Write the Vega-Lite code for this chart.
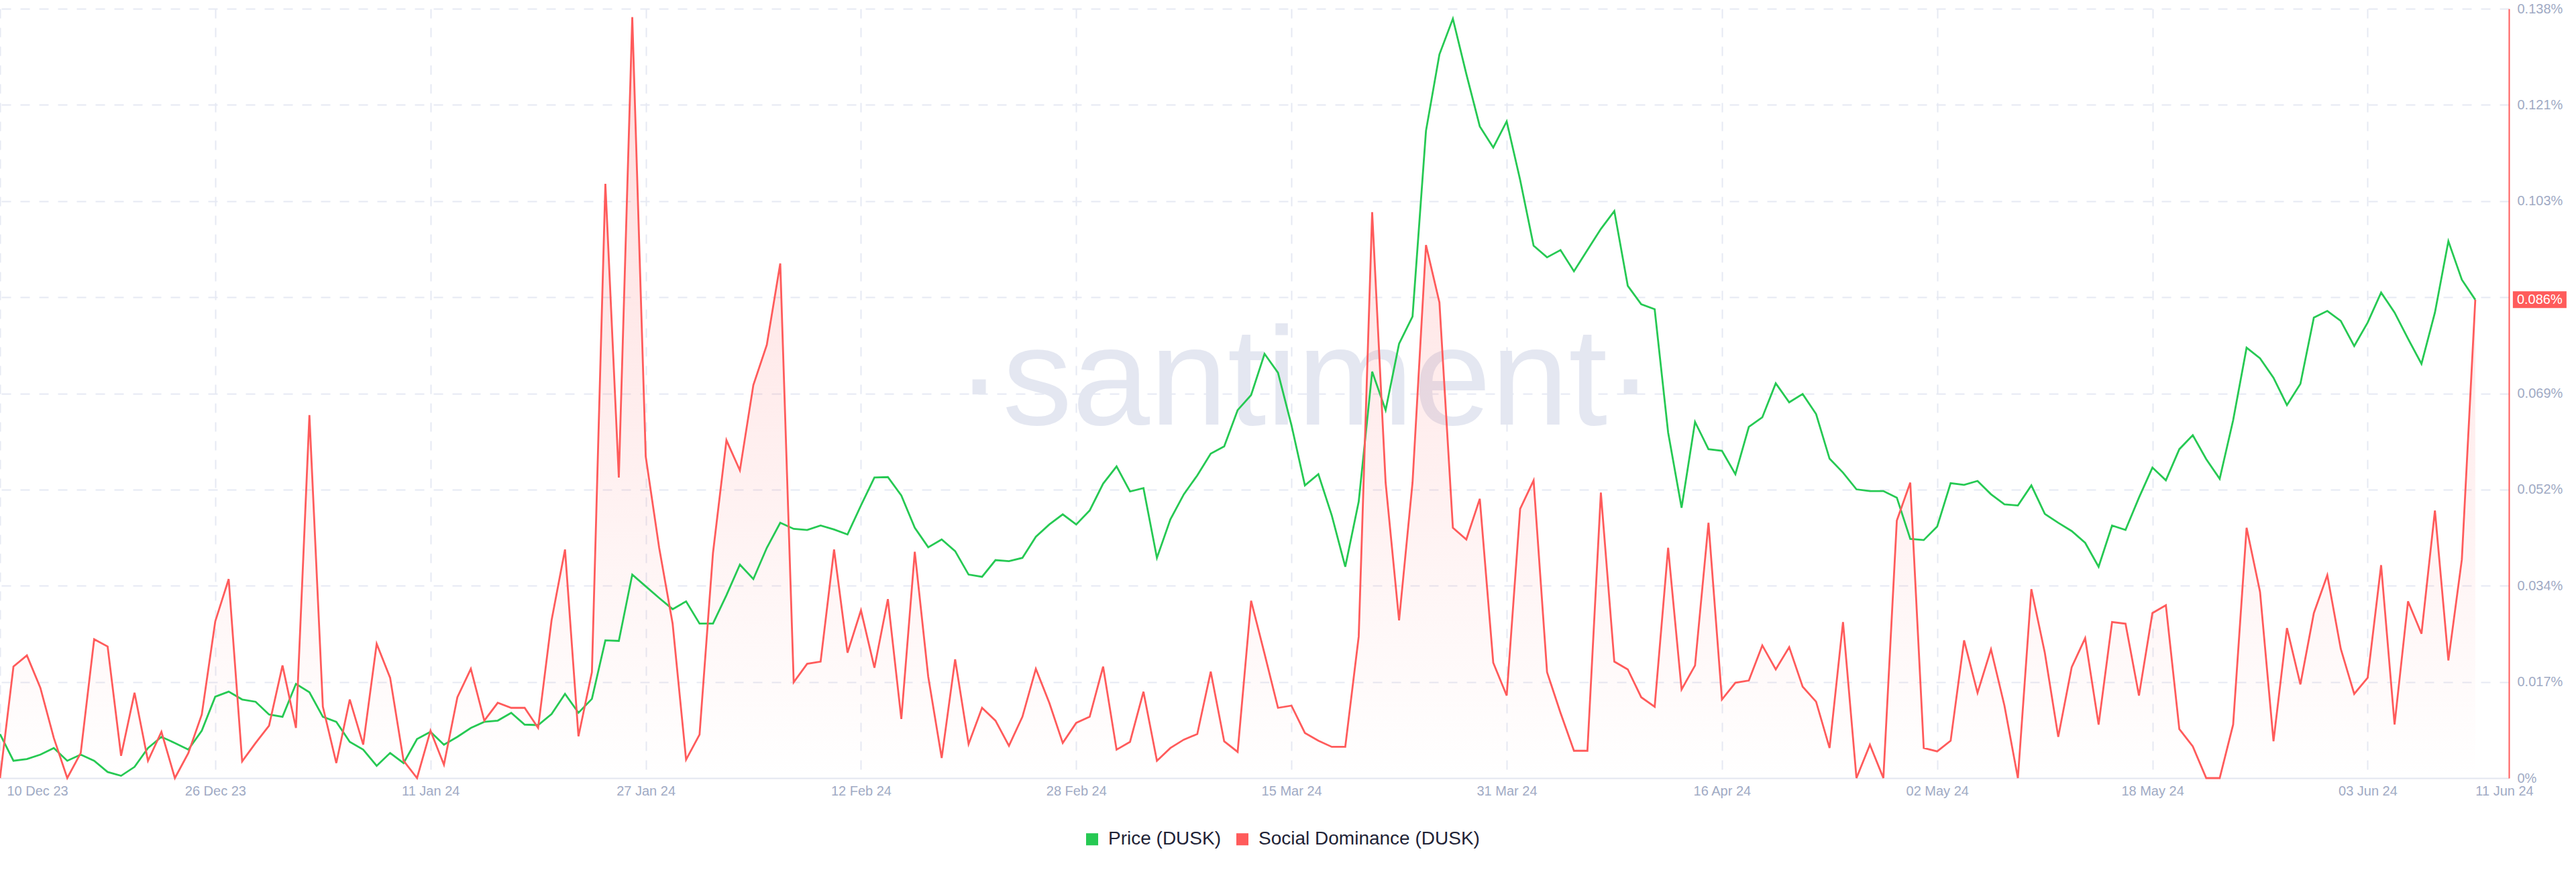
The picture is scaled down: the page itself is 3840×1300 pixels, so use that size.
{
  "$schema": "https://vega.github.io/schema/vega-lite/v6.json",
  "width": 3740,
  "height": 1147,
  "autosize": {"type": "none"},
  "padding": {"left": 0, "top": 13, "right": 100, "bottom": 140},
  "background": "#ffffff",
  "config": {"view": {"stroke": null}, "font": "Liberation Sans"},
  "datasets": {
    "dusk": [
      {"date":"2023-12-10","price":0.2066,"dom":0},
      {"date":"2023-12-11","price":0.1844,"dom":0.0200},
      {"date":"2023-12-12","price":0.1858,"dom":0.0220},
      {"date":"2023-12-13","price":0.1895,"dom":0.0162},
      {"date":"2023-12-14","price":0.1950,"dom":0.0072},
      {"date":"2023-12-15","price":0.1844,"dom":0},
      {"date":"2023-12-16","price":0.1895,"dom":0.0045},
      {"date":"2023-12-17","price":0.1844,"dom":0.0249},
      {"date":"2023-12-18","price":0.1751,"dom":0.0236},
      {"date":"2023-12-19","price":0.1719,"dom":0.0040},
      {"date":"2023-12-20","price":0.1793,"dom":0.0153},
      {"date":"2023-12-21","price":0.1950,"dom":0.0031},
      {"date":"2023-12-22","price":0.2043,"dom":0.0083},
      {"date":"2023-12-23","price":0.1992,"dom":0},
      {"date":"2023-12-24","price":0.1937,"dom":0.0045},
      {"date":"2023-12-25","price":0.2094,"dom":0.0114},
      {"date":"2023-12-26","price":0.2377,"dom":0.0281},
      {"date":"2023-12-27","price":0.2419,"dom":0.0357},
      {"date":"2023-12-28","price":0.2354,"dom":0.0030},
      {"date":"2023-12-29","price":0.2335,"dom":0.0063},
      {"date":"2023-12-30","price":0.2229,"dom":0.0094},
      {"date":"2023-12-31","price":0.2210,"dom":0.0202},
      {"date":"2024-01-01","price":0.2484,"dom":0.0090},
      {"date":"2024-01-02","price":0.2414,"dom":0.0651},
      {"date":"2024-01-03","price":0.2210,"dom":0.0128},
      {"date":"2024-01-04","price":0.2168,"dom":0.0027},
      {"date":"2024-01-05","price":0.2001,"dom":0.0141},
      {"date":"2024-01-06","price":0.1937,"dom":0.0060},
      {"date":"2024-01-07","price":0.1802,"dom":0.0241},
      {"date":"2024-01-08","price":0.1909,"dom":0.0180},
      {"date":"2024-01-09","price":0.1825,"dom":0.0031},
      {"date":"2024-01-10","price":0.2025,"dom":0},
      {"date":"2024-01-11","price":0.2085,"dom":0.0085},
      {"date":"2024-01-12","price":0.1978,"dom":0.0024},
      {"date":"2024-01-13","price":0.2043,"dom":0.0145},
      {"date":"2024-01-14","price":0.2117,"dom":0.0196},
      {"date":"2024-01-15","price":0.2168,"dom":0.0103},
      {"date":"2024-01-16","price":0.2178,"dom":0.0135},
      {"date":"2024-01-17","price":0.2243,"dom":0.0126},
      {"date":"2024-01-18","price":0.2145,"dom":0.0126},
      {"date":"2024-01-19","price":0.2141,"dom":0.0090},
      {"date":"2024-01-20","price":0.2233,"dom":0.0283},
      {"date":"2024-01-21","price":0.2400,"dom":0.0410},
      {"date":"2024-01-22","price":0.2243,"dom":0.0075},
      {"date":"2024-01-23","price":0.2359,"dom":0.0190},
      {"date":"2024-01-24","price":0.2846,"dom":0.1066},
      {"date":"2024-01-25","price":0.2841,"dom":0.0539},
      {"date":"2024-01-26","price":0.3393,"dom":0.1365},
      {"date":"2024-01-27","price":0.3295,"dom":0.0577},
      {"date":"2024-01-28","price":0.3198,"dom":0.0413},
      {"date":"2024-01-29","price":0.3105,"dom":0.0277},
      {"date":"2024-01-30","price":0.3170,"dom":0.0033},
      {"date":"2024-01-31","price":0.2985,"dom":0.0078},
      {"date":"2024-02-01","price":0.2985,"dom":0.0404},
      {"date":"2024-02-02","price":0.3221,"dom":0.0606},
      {"date":"2024-02-03","price":0.3476,"dom":0.0552},
      {"date":"2024-02-04","price":0.3356,"dom":0.0705},
      {"date":"2024-02-05","price":0.3615,"dom":0.0777},
      {"date":"2024-02-06","price":0.3824,"dom":0.0923},
      {"date":"2024-02-07","price":0.3773,"dom":0.0172},
      {"date":"2024-02-08","price":0.3764,"dom":0.0205},
      {"date":"2024-02-09","price":0.3801,"dom":0.0209},
      {"date":"2024-02-10","price":0.3768,"dom":0.0410},
      {"date":"2024-02-11","price":0.3727,"dom":0.0225},
      {"date":"2024-02-12","price":0.3968,"dom":0.0301},
      {"date":"2024-02-13","price":0.4200,"dom":0.0198},
      {"date":"2024-02-14","price":0.4204,"dom":0.0321},
      {"date":"2024-02-15","price":0.4051,"dom":0.0106},
      {"date":"2024-02-16","price":0.3782,"dom":0.0406},
      {"date":"2024-02-17","price":0.3620,"dom":0.0182},
      {"date":"2024-02-18","price":0.3685,"dom":0.0036},
      {"date":"2024-02-19","price":0.3588,"dom":0.0213},
      {"date":"2024-02-20","price":0.3393,"dom":0.0061},
      {"date":"2024-02-21","price":0.3374,"dom":0.0126},
      {"date":"2024-02-22","price":0.3513,"dom":0.0103},
      {"date":"2024-02-23","price":0.3504,"dom":0.0058},
      {"date":"2024-02-24","price":0.3532,"dom":0.0110},
      {"date":"2024-02-25","price":0.3708,"dom":0.0196},
      {"date":"2024-02-26","price":0.3810,"dom":0.0135},
      {"date":"2024-02-27","price":0.3894,"dom":0.0063},
      {"date":"2024-02-28","price":0.3810,"dom":0.0099},
      {"date":"2024-02-29","price":0.3926,"dom":0.0110},
      {"date":"2024-03-01","price":0.4149,"dom":0.0200},
      {"date":"2024-03-02","price":0.4293,"dom":0.0051},
      {"date":"2024-03-03","price":0.4084,"dom":0.0065},
      {"date":"2024-03-04","price":0.4112,"dom":0.0155},
      {"date":"2024-03-05","price":0.3532,"dom":0.0031},
      {"date":"2024-03-06","price":0.3852,"dom":0.0054},
      {"date":"2024-03-07","price":0.4061,"dom":0.0069},
      {"date":"2024-03-08","price":0.4218,"dom":0.0079},
      {"date":"2024-03-09","price":0.4399,"dom":0.0191},
      {"date":"2024-03-10","price":0.4459,"dom":0.0066},
      {"date":"2024-03-11","price":0.4761,"dom":0.0047},
      {"date":"2024-03-12","price":0.4886,"dom":0.0318},
      {"date":"2024-03-13","price":0.5229,"dom":0.0223},
      {"date":"2024-03-14","price":0.5072,"dom":0.0126},
      {"date":"2024-03-15","price":0.4636,"dom":0.0130},
      {"date":"2024-03-16","price":0.4135,"dom":0.0081},
      {"date":"2024-03-17","price":0.4228,"dom":0.0067},
      {"date":"2024-03-18","price":0.3884,"dom":0.0056},
      {"date":"2024-03-19","price":0.3458,"dom":0.0056},
      {"date":"2024-03-20","price":0.4000,"dom":0.0254},
      {"date":"2024-03-21","price":0.5081,"dom":0.1015},
      {"date":"2024-03-22","price":0.4761,"dom":0.0530},
      {"date":"2024-03-23","price":0.5313,"dom":0.0283},
      {"date":"2024-03-24","price":0.5540,"dom":0.0530},
      {"date":"2024-03-25","price":0.7084,"dom":0.0956},
      {"date":"2024-03-26","price":0.7720,"dom":0.0853},
      {"date":"2024-03-27","price":0.8017,"dom":0.0449},
      {"date":"2024-03-28","price":0.7557,"dom":0.0428},
      {"date":"2024-03-29","price":0.7121,"dom":0.0501},
      {"date":"2024-03-30","price":0.6945,"dom":0.0207},
      {"date":"2024-03-31","price":0.7163,"dom":0.0148},
      {"date":"2024-04-01","price":0.6676,"dom":0.0483},
      {"date":"2024-04-02","price":0.6129,"dom":0.0534},
      {"date":"2024-04-03","price":0.6032,"dom":0.0190},
      {"date":"2024-04-04","price":0.6092,"dom":0.0117},
      {"date":"2024-04-05","price":0.5916,"dom":0.0049},
      {"date":"2024-04-06","price":0.6092,"dom":0.0049},
      {"date":"2024-04-07","price":0.6268,"dom":0.0512},
      {"date":"2024-04-08","price":0.6417,"dom":0.0209},
      {"date":"2024-04-09","price":0.5795,"dom":0.0195},
      {"date":"2024-04-10","price":0.5642,"dom":0.0145},
      {"date":"2024-04-11","price":0.5600,"dom":0.0128},
      {"date":"2024-04-12","price":0.4575,"dom":0.0413},
      {"date":"2024-04-13","price":0.3949,"dom":0.0159},
      {"date":"2024-04-14","price":0.4663,"dom":0.0202},
      {"date":"2024-04-15","price":0.4436,"dom":0.0458},
      {"date":"2024-04-16","price":0.4422,"dom":0.0141},
      {"date":"2024-04-17","price":0.4228,"dom":0.0171},
      {"date":"2024-04-18","price":0.4622,"dom":0.0175},
      {"date":"2024-04-19","price":0.4701,"dom":0.0238},
      {"date":"2024-04-20","price":0.4984,"dom":0.0195},
      {"date":"2024-04-21","price":0.4826,"dom":0.0235},
      {"date":"2024-04-22","price":0.4895,"dom":0.0164},
      {"date":"2024-04-23","price":0.4728,"dom":0.0137},
      {"date":"2024-04-24","price":0.4357,"dom":0.0054},
      {"date":"2024-04-25","price":0.4241,"dom":0.0280},
      {"date":"2024-04-26","price":0.4102,"dom":0},
      {"date":"2024-04-27","price":0.4088,"dom":0.0060},
      {"date":"2024-04-28","price":0.4088,"dom":0},
      {"date":"2024-04-29","price":0.4033,"dom":0.0462},
      {"date":"2024-04-30","price":0.3690,"dom":0.0530},
      {"date":"2024-05-01","price":0.3680,"dom":0.0054},
      {"date":"2024-05-02","price":0.3792,"dom":0.0048},
      {"date":"2024-05-03","price":0.4153,"dom":0.0067},
      {"date":"2024-05-04","price":0.4139,"dom":0.0247},
      {"date":"2024-05-05","price":0.4172,"dom":0.0153},
      {"date":"2024-05-06","price":0.4061,"dom":0.0231},
      {"date":"2024-05-07","price":0.3977,"dom":0.0130},
      {"date":"2024-05-08","price":0.3968,"dom":0},
      {"date":"2024-05-09","price":0.4135,"dom":0.0339},
      {"date":"2024-05-10","price":0.3898,"dom":0.0225},
      {"date":"2024-05-11","price":0.3824,"dom":0.0074},
      {"date":"2024-05-12","price":0.3755,"dom":0.0199},
      {"date":"2024-05-13","price":0.3657,"dom":0.0251},
      {"date":"2024-05-14","price":0.3458,"dom":0.0096},
      {"date":"2024-05-15","price":0.3801,"dom":0.0280},
      {"date":"2024-05-16","price":0.3764,"dom":0.0277},
      {"date":"2024-05-17","price":0.4033,"dom":0.0148},
      {"date":"2024-05-18","price":0.4283,"dom":0.0296},
      {"date":"2024-05-19","price":0.4177,"dom":0.0310},
      {"date":"2024-05-20","price":0.4436,"dom":0.0088},
      {"date":"2024-05-21","price":0.4552,"dom":0.0057},
      {"date":"2024-05-22","price":0.4353,"dom":0},
      {"date":"2024-05-23","price":0.4190,"dom":0},
      {"date":"2024-05-24","price":0.4677,"dom":0.0096},
      {"date":"2024-05-25","price":0.5280,"dom":0.0449},
      {"date":"2024-05-26","price":0.5192,"dom":0.0334},
      {"date":"2024-05-27","price":0.5030,"dom":0.0066},
      {"date":"2024-05-28","price":0.4803,"dom":0.0269},
      {"date":"2024-05-29","price":0.4979,"dom":0.0168},
      {"date":"2024-05-30","price":0.5531,"dom":0.0296},
      {"date":"2024-05-31","price":0.5586,"dom":0.0364},
      {"date":"2024-06-01","price":0.5503,"dom":0.0232},
      {"date":"2024-06-02","price":0.5294,"dom":0.0151},
      {"date":"2024-06-03","price":0.5489,"dom":0.0180},
      {"date":"2024-06-04","price":0.5739,"dom":0.0382},
      {"date":"2024-06-05","price":0.5573,"dom":0.0096},
      {"date":"2024-06-06","price":0.5355,"dom":0.0317},
      {"date":"2024-06-07","price":0.5146,"dom":0.0259},
      {"date":"2024-06-08","price":0.5573,"dom":0.0480},
      {"date":"2024-06-09","price":0.6166,"dom":0.0211},
      {"date":"2024-06-10","price":0.5846,"dom":0.0392},
      {"date":"2024-06-11","price":0.5679,"dom":0.0858}
    ]
  },
  "data": {"name": "dusk"},
  "encoding": {
    "x": {
      "field": "date",
      "type": "temporal",
      "scale": {"type": "utc", "domain": [1702166400000, 1718280000000]},
      "axis": {
        "title": null,
        "values": [
          {"year": 2023, "month": 12, "date": 10, "utc": true},
          {"year": 2023, "month": 12, "date": 26, "utc": true},
          {"year": 2024, "month": 1, "date": 11, "utc": true},
          {"year": 2024, "month": 1, "date": 27, "utc": true},
          {"year": 2024, "month": 2, "date": 12, "utc": true},
          {"year": 2024, "month": 2, "date": 28, "utc": true},
          {"year": 2024, "month": 3, "date": 15, "utc": true},
          {"year": 2024, "month": 3, "date": 31, "utc": true},
          {"year": 2024, "month": 4, "date": 16, "utc": true},
          {"year": 2024, "month": 5, "date": 2, "utc": true},
          {"year": 2024, "month": 5, "date": 18, "utc": true},
          {"year": 2024, "month": 6, "date": 3, "utc": true},
          {"year": 2024, "month": 6, "date": 11, "utc": true}
        ],
        "format": "%d %b %y",
        "grid": true,
        "gridColor": "#e6e9f3",
        "gridDash": [14, 14],
        "gridWidth": 2,
        "gridOpacity": {"condition": {"test": "datum.value >= 1718064000000", "value": 0}, "value": 1},
        "ticks": false,
        "domainColor": "#e3e6f0",
        "domainWidth": 2,
        "labelColor": "#9faac4",
        "labelFont": "Liberation Sans",
        "labelFontSize": 20,
        "labelPadding": 9,
        "labelAlign": {"condition": {"test": "datum.value <= 1702166400000 || datum.value >= 1718064000000", "value": "left"}, "value": "center"},
        "labelOffset": {"condition": {"test": "datum.value <= 1702166400000", "value": 10}, "value": 0},
        "labelOverlap": false,
        "labelFlush": false,
        "labelBound": false
      }
    }
  },
  "layer": [
    {
      "transform": [{"filter": "utcmonth(datum.date) == 2 && utcdate(datum.date) == 16"}],
      "mark": {"type": "text", "font": "Liberation Sans", "fontSize": 208, "fill": "#e4e7f1", "opacity": 1, "align": "center", "baseline": "alphabetic"},
      "encoding": {
        "y": {"datum": 0.0634, "type": "quantitative", "scale": {"domain": [0, 0.138], "nice": false, "zero": true}, "axis": null},
        "text": {"value": "·santiment·"}
      }
    },
    {
      "mark": {
        "type": "area",
        "interpolate": "linear",
        "color": {"gradient": "linear", "x1": 0, "y1": 0, "x2": 0, "y2": 1,
          "stops": [{"offset": 0, "color": "rgba(255,91,91,0.22)"}, {"offset": 1, "color": "rgba(255,91,91,0)"}]}
      },
      "encoding": {
        "y": {"field": "dom", "type": "quantitative", "scale": {"domain": [0, 0.138], "nice": false, "zero": true}, "axis": null}
      }
    },
    {
      "mark": {"type": "line", "strokeWidth": 2.8, "interpolate": "linear"},
      "encoding": {
        "y": {"field": "price", "type": "quantitative", "scale": {"domain": [0.17, 0.81], "nice": false, "zero": false}, "axis": null},
        "color": {
          "datum": "Price (DUSK)",
          "type": "nominal",
          "scale": {"domain": ["Price (DUSK)", "Social Dominance (DUSK)"], "range": ["#26c953", "#ff5b5b"]},
          "legend": {"orient": "none", "legendX": 1614, "legendY": 1224, "direction": "horizontal", "title": null, "symbolType": "square", "symbolSize": 81, "symbolStrokeWidth": 9, "symbolOpacity": 1, "labelFontSize": 28, "labelFont": "Liberation Sans", "labelColor": "#1f2336", "labelOffset": 10, "labelLimit": 600, "columnPadding": 8, "padding": 0}
        }
      }
    },
    {
      "mark": {"type": "line", "strokeWidth": 2.8, "interpolate": "linear"},
      "encoding": {
        "y": {
          "field": "dom",
          "type": "quantitative",
          "scale": {"domain": [0, 0.138], "nice": false, "zero": true},
          "axis": {
            "orient": "right",
            "title": null,
            "values": [0, 0.01725, 0.0345, 0.05175, 0.069, 0.08625, 0.1035, 0.12075, 0.138],
            "labelExpr": "['0%','0.017%','0.034%','0.052%','0.069%','0.086%','0.103%','0.121%','0.138%'][round(datum.value/0.01725)]",
            "grid": true,
            "gridColor": "#e6e9f3",
            "gridDash": [14, 14],
            "gridWidth": 2,
            "gridOpacity": {"condition": {"test": "datum.value == 0", "value": 0}, "value": 1},
            "ticks": false,
            "domainColor": "#ff5b5b",
            "domainWidth": 2,
            "labelColor": "#9faac4",
            "labelFont": "Liberation Sans",
            "labelFontSize": 20,
            "labelPadding": 12,
            "labelFlush": false,
            "labelOverlap": false,
            "labelBound": false
          }
        },
        "color": {
          "datum": "Social Dominance (DUSK)",
          "type": "nominal",
          "scale": {"domain": ["Price (DUSK)", "Social Dominance (DUSK)"], "range": ["#26c953", "#ff5b5b"]},
          "legend": {"orient": "none", "legendX": 1614, "legendY": 1224, "direction": "horizontal", "title": null, "symbolType": "square", "symbolSize": 81, "symbolStrokeWidth": 9, "symbolOpacity": 1, "labelFontSize": 28, "labelFont": "Liberation Sans", "labelColor": "#1f2336", "labelOffset": 10, "labelLimit": 600, "columnPadding": 8, "padding": 0}
        }
      }
    },
    {
      "data": {"values": [{"date": "2024-06-11", "dom": 0.0858}]},
      "mark": {"type": "point", "shape": "M-1.6,-0.5H1.6V0.5H-1.6Z", "size": 2500, "filled": true, "color": "#ff5b5b", "opacity": 1, "xOffset": 96},
      "encoding": {
        "y": {"field": "dom", "type": "quantitative", "scale": {"domain": [0, 0.138], "nice": false, "zero": true}, "axis": null}
      }
    },
    {
      "data": {"values": [{"date": "2024-06-11", "dom": 0.0858}]},
      "transform": [{"calculate": "format(datum.dom, '.3f') + '%'", "as": "label"}],
      "mark": {"type": "text", "color": "#ffffff", "fontSize": 20, "font": "Liberation Sans", "dx": 96, "align": "center", "baseline": "middle"},
      "encoding": {
        "y": {"field": "dom", "type": "quantitative", "scale": {"domain": [0, 0.138], "nice": false, "zero": true}, "axis": null},
        "text": {"field": "label"}
      }
    }
  ],
  "resolve": {"scale": {"y": "independent"}}
}
